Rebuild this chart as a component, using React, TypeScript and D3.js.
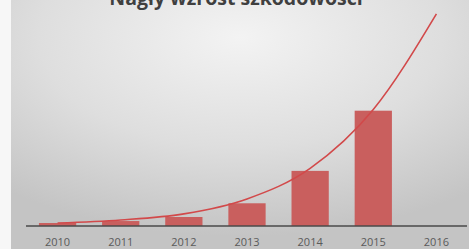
import React from "react";
import * as d3 from "d3";

const years = ["2010", "2011", "2012", "2013", "2014", "2015", "2016"];
const barValues = [2.6, 4.3, 7.8, 19.7, 47.8, 100, 0];
const trendValues = [2.6, 5.2, 10.5, 23.5, 50, 101, 184];
const title = "Nagły wzrost szkodowości";

const W = 469;
const H = 249;

export default function App() {
  const x = d3.scaleBand<string>().domain(years).range([26, 468]).paddingInner(0.41).paddingOuter(0.205);
  const y = d3.scaleLinear().domain([0, 100]).range([226, 110.7]);
  const cx = (d: string) => (x(d) ?? 0) + x.bandwidth() / 2;
  const line = d3
    .line<number>()
    .x((_, i) => cx(years[i]))
    .y((v) => y(v))
    .curve(d3.curveMonotoneX);

  return (
    <svg
      width={W}
      height={H}
      style={{ position: "absolute", left: 0, top: 0, display: "block" }}
      fontFamily="'Open Sans', sans-serif"
    >
      <defs>
        <radialGradient id="bg" cx="0.5" cy="0.15" r="0.8" fx="0.5" fy="0.15">
          <stop offset="0" stopColor="#f3f3f3" />
          <stop offset="0.55" stopColor="#dedede" />
          <stop offset="1" stopColor="#c4c4c4" />
        </radialGradient>
      </defs>
      <rect x={0} y={0} width={W} height={H} fill="#f7f7f7" />
      <rect x={11} y={0} width={W - 11} height={H} fill="url(#bg)" />
      <text
        x={236}
        y={4.5}
        textAnchor="middle"
        fontSize={19.5}
        fontWeight="bold"
        fill="#3f3f3f"
      >
        {title}
      </text>
      {years.map((yr, i) =>
        barValues[i] > 0 ? (
          <rect
            key={yr}
            x={x(yr)}
            y={y(barValues[i])}
            width={x.bandwidth()}
            height={y(0) - y(barValues[i])}
            fill="#c95f5e"
          />
        ) : null
      )}
      <line x1={26} x2={467} y1={y(0)} y2={y(0)} stroke="#4a4a4a" strokeWidth={1.6} />
      <path d={line(trendValues) ?? ""} fill="none" stroke="#d2494a" strokeWidth={1.6} />
      {years.map((yr) => (
        <text
          key={yr}
          x={cx(yr)}
          y={245.5}
          textAnchor="middle"
          fontSize={11}
          fill="#5a5a5a"
        >
          {yr}
        </text>
      ))}
    </svg>
  );
}
